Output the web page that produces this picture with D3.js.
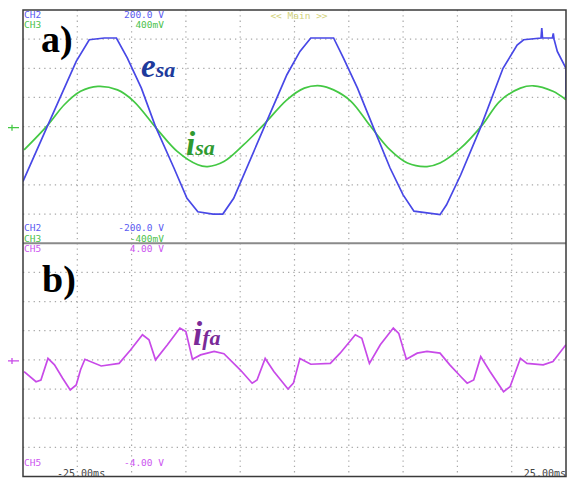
<!DOCTYPE html>
<html>
<head>
<meta charset="utf-8">
<script src="https://cdn.jsdelivr.net/npm/d3@7"></script>
<style>
  html, body { margin: 0; padding: 0; background: #fff; }
  svg { display: block; }
</style>
</head>
<body>
<svg id="scope" width="568" height="478"></svg>
<script>
// time in ms, values in scope units (V, mV, V)
var esaData = [
  [-25.0, -94], [-22.7, 3], [-20.1, 112], [-18.9, 149], [-17.5, 152], [-16.4, 152],
  [-15.4, 118], [-14.1, 66], [-12.8, 0], [-11.1, -71], [-9.9, -123], [-8.9, -146],
  [-7.5, -150], [-6.6, -150], [-5.6, -123], [-2.7, 3], [-0.7, 89], [0.5, 129],
  [1.5, 152], [3.6, 152], [4.5, 118], [5.8, 66], [7.3, -3], [8.8, -71], [10.0, -117],
  [11.0, -145], [13.4, -151], [14.0, -134], [15.3, -83], [17.1, -3], [19.2, 100],
  [20.5, 140], [21.1, 149], [22.7, 152], [22.77, 169], [22.84, 152], [23.75, 152],
  [23.83, 160], [23.9, 150], [24.2, 129], [25.0, 100], [25.0, 49]
];

var isaData = [
  [-24.9, -80], [-22.7, 6], [-21.2, 75], [-19.7, 121], [-18.1, 138], [-16.3, 126],
  [-14.8, 87], [-12.6, -11], [-10.8, -85], [-8.9, -131], [-8.0, -137], [-6.5, -120],
  [-4.7, -63], [-2.7, 12], [-0.7, 92], [0.9, 132], [2.4, 140], [3.6, 126], [5.2, 87],
  [7.0, 1], [8.8, -80], [10.4, -125], [12.2, -137], [13.4, -125], [15.3, -74],
  [17.3, 6], [18.9, 87], [20.8, 132], [22.0, 140], [23.8, 121], [25.0, 92]
];

var ifaData = [
  [-24.9, -0.40], [-23.8, -0.75], [-23.35, -0.69], [-22.7, 0.05], [-22.1, -0.17],
  [-21.35, -0.63], [-20.65, -1.03], [-20.1, -0.86], [-19.7, -0.34], [-19.3, 0.02],
  [-17.8, -0.21], [-16.15, -0.12], [-15.1, 0.34], [-14.0, 0.86], [-13.4, 0.69],
  [-12.8, 0.00], [-11.7, 0.52], [-10.55, 1.09], [-10.0, 0.97], [-9.4, 0.02],
  [-8.65, 0.17], [-7.4, 0.29], [-6.5, 0.21], [-5.0, -0.34], [-3.9, -0.80],
  [-3.45, -0.69], [-2.7, 0.05], [-1.9, -0.40], [-0.6, -1.00], [-0.1, -0.80],
  [0.5, 0.05], [1.5, -0.15], [3.3, -0.12], [4.2, 0.23], [5.6, 0.86], [6.2, 0.74],
  [6.9, -0.12], [7.9, 0.52], [9.1, 1.09], [9.6, 0.91], [10.3, 0.02], [11.3, 0.23],
  [12.2, 0.29], [13.4, 0.23], [14.3, -0.17], [15.3, -0.57], [15.9, -0.80],
  [16.5, -0.69], [17.15, 0.11], [18.0, -0.40], [19.25, -1.09], [19.85, -0.92],
  [20.8, 0.05], [21.4, -0.12], [22.9, -0.17], [23.8, -0.06], [25.0, 0.52]
];

var timeRange = [-25, 25];
var ch2Range = [-200, 200];
var ch3Range = [-400, 400];
var ch5Range = [-4, 4];

var topTexts = [
  {ch: "CH2", val: "200.0 V", color: "#5a5af2"},
  {ch: "CH3", val: "400mV", color: "#4cc24c"}
];
var midTexts = [
  {ch: "CH2", val: "-200.0 V", color: "#5a5af2"},
  {ch: "CH3", val: "-400mV", color: "#4cc24c"},
  {ch: "CH5", val: "4.00 V", color: "#cc55f0"}
];

(function () {
  var svg = d3.select("#scope");

  var pLeft = 23, pRight = 566, pTop = 10, pBottom = 476.5;
  var pMid = (pTop + pBottom) / 2;

  var x = d3.scaleLinear().domain(timeRange).range([pLeft, pRight]);
  var yE = d3.scaleLinear().domain(ch2Range).range([pMid, pTop]);
  var yI = d3.scaleLinear().domain(ch3Range).range([pMid, pTop]);
  var yF = d3.scaleLinear().domain(ch5Range).range([pBottom, pMid]);

  svg.append("defs").append("clipPath").attr("id", "plotclip")
    .append("rect").attr("x", pLeft).attr("y", pTop)
    .attr("width", pRight - pLeft).attr("height", pBottom - pTop);

  // dotted grid
  var grid = svg.append("g").attr("stroke", "#a8a8a8").attr("stroke-width", 1.2)
    .attr("stroke-dasharray", "1.3,4");

  var xt = x.ticks(10).filter(function (t) { return t > timeRange[0] && t < timeRange[1]; });
  grid.selectAll("line.v").data(xt).enter().append("line")
    .attr("x1", function (d) { return x(d); }).attr("x2", function (d) { return x(d); })
    .attr("y1", pTop).attr("y2", pBottom);

  var yt = yE.ticks(8).filter(function (t) { return t > ch2Range[0] && t < ch2Range[1]; });
  grid.selectAll("line.ht").data(yt).enter().append("line")
    .attr("x1", pLeft).attr("x2", pRight)
    .attr("y1", function (d) { return yE(d); }).attr("y2", function (d) { return yE(d); });

  var ybt = yF.ticks(8).filter(function (t) { return t > ch5Range[0] && t < ch5Range[1]; });
  grid.selectAll("line.hb").data(ybt).enter().append("line")
    .attr("x1", pLeft).attr("x2", pRight)
    .attr("y1", function (d) { return yF(d); }).attr("y2", function (d) { return yF(d); });

  // separator between the two screens
  svg.append("line").attr("x1", pLeft).attr("x2", pRight)
    .attr("y1", pMid).attr("y2", pMid)
    .attr("stroke", "#8a8a8a").attr("stroke-width", 2);

  // channel texts
  var mono = "'DejaVu Sans Mono', monospace";
  topTexts.forEach(function (t, i) {
    var yy = 17.5 + i * 10.5;
    svg.append("text").attr("x", 24).attr("y", yy).attr("fill", t.color)
      .style("font", "9.5px " + mono).text(t.ch);
    svg.append("text").attr("x", 164).attr("y", yy).attr("fill", t.color)
      .attr("text-anchor", "end").style("font", "9.5px " + mono).text(t.val);
  });
  svg.append("text").attr("x", 299).attr("y", 19).attr("fill", "#d2d27a")
    .attr("text-anchor", "middle").style("font", "9.5px " + mono).text("<< Main >>");

  midTexts.forEach(function (t, i) {
    var yy = 231 + i * 10.5;
    svg.append("text").attr("x", 24).attr("y", yy).attr("fill", t.color)
      .style("font", "9.5px " + mono).text(t.ch);
    svg.append("text").attr("x", 164).attr("y", yy).attr("fill", t.color)
      .attr("text-anchor", "end").style("font", "9.5px " + mono).text(t.val);
  });

  svg.append("text").attr("x", 24).attr("y", 466).attr("fill", "#cc55f0")
    .style("font", "9.5px " + mono).text("CH5");
  svg.append("text").attr("x", 164).attr("y", 466).attr("fill", "#cc55f0")
    .attr("text-anchor", "end").style("font", "9.5px " + mono).text("-4.00 V");
  svg.append("text").attr("x", 57).attr("y", 477).attr("fill", "#444")
    .style("font", "10px " + mono).text("-25.00ms");
  svg.append("text").attr("x", 566).attr("y", 477).attr("fill", "#444")
    .attr("text-anchor", "end").style("font", "10px " + mono).text("25.00ms");

  // traces
  var plot = svg.append("g").attr("clip-path", "url(#plotclip)");

  var lineE = d3.line().x(function (d) { return x(d[0]); }).y(function (d) { return yE(d[1]); });
  var lineI = d3.line().x(function (d) { return x(d[0]); }).y(function (d) { return yI(d[1]); })
    .curve(d3.curveCatmullRom);
  var lineF = d3.line().x(function (d) { return x(d[0]); }).y(function (d) { return yF(d[1]); });

  plot.append("path").datum(isaData).attr("d", lineI)
    .attr("fill", "none").attr("stroke", "#44c844").attr("stroke-width", 1.7);
  plot.append("path").datum(esaData).attr("d", lineE)
    .attr("fill", "none").attr("stroke", "#4848e6").attr("stroke-width", 1.7);
  plot.append("path").datum(ifaData).attr("d", lineF)
    .attr("fill", "none").attr("stroke", "#c84ae8").attr("stroke-width", 1.7);

  // ground markers on the left
  function marker(yy, color) {
    svg.append("path")
      .attr("d", "M8," + yy + "H19M12," + (yy - 3) + "V" + (yy + 3))
      .attr("stroke", color).attr("stroke-width", 1.3).attr("fill", "none");
  }
  marker(yI(0) + 1, "#44c844");
  marker(yF(0) + 1, "#c84ae8");

  // frame
  svg.append("rect").attr("x", pLeft).attr("y", pTop)
    .attr("width", pRight - pLeft).attr("height", pBottom - pTop)
    .attr("fill", "none").attr("stroke", "#3a3a3a").attr("stroke-width", 1.5);

  // panel labels
  var serif = "'Liberation Serif', 'Times New Roman', serif";
  svg.append("text").attr("x", 41).attr("y", 52).attr("fill", "#000")
    .style("font", "bold 38px " + serif).text("a)");
  svg.append("text").attr("x", 42).attr("y", 292).attr("fill", "#000")
    .style("font", "bold 38px " + serif).text("b)");

  function sigLabel(xx, yy, big, small, color) {
    var t = svg.append("text").attr("x", xx).attr("y", yy).attr("fill", color)
      .style("font-family", serif).style("font-weight", "bold").style("font-style", "italic");
    t.append("tspan").style("font-size", "33px").text(big);
    t.append("tspan").style("font-size", "22px").text(small);
  }
  sigLabel(141, 77, "e", "sa", "#1d3a9c");
  sigLabel(186, 155, "i", "sa", "#2f9a2f");
  sigLabel(193, 345, "i", "fa", "#7a2a98");
})();
</script>
</body>
</html>
